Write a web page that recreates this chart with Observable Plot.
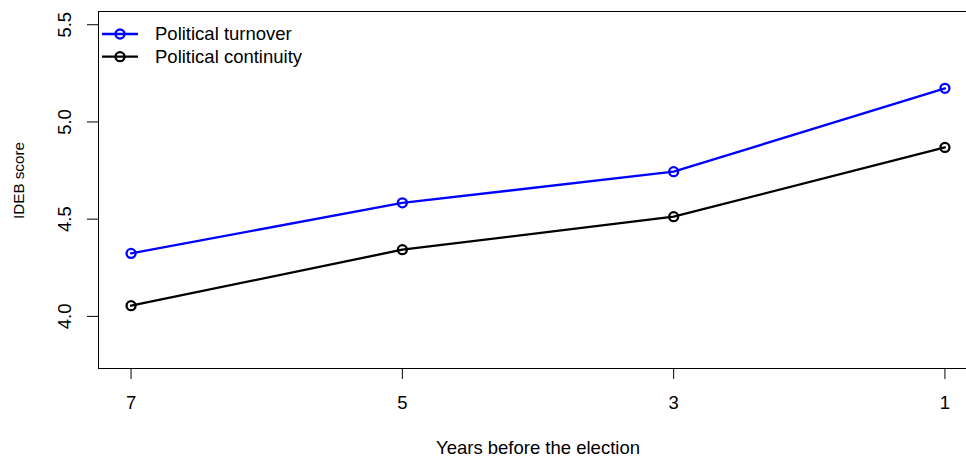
<!DOCTYPE html>
<html>
<head>
<meta charset="utf-8">
<script src="https://cdn.jsdelivr.net/npm/d3@7"></script>
<script src="https://cdn.jsdelivr.net/npm/@observablehq/plot@0.6"></script>
<style>
  html, body { margin: 0; padding: 0; background: white; overflow: hidden; width: 966px; height: 459px; }
  #chart { position: relative; width: 966px; height: 459px; overflow: hidden; }
  #chart > svg { max-width: none !important; }
  #legend { position: absolute; left: 0; top: 0; }
</style>
</head>
<body>
<div id="chart"></div>
<script>
const years = [7, 5, 3, 1];
const turnover = [4.324, 4.584, 4.744, 5.173];
const continuity = [4.055, 4.343, 4.513, 4.869];
const seriesNames = ["Political turnover", "Political continuity"];
const seriesColors = ["#0000ff", "#000000"];
const xTicks = [7, 5, 3, 1];
const yTicks = [4.0, 4.5, 5.0, 5.5];
const xTitle = "Years before the election";
const yTitle = "IDEB score";

const data = [];
years.forEach((yr, i) => data.push({year: yr, score: turnover[i], series: seriesNames[0]}));
years.forEach((yr, i) => data.push({year: yr, score: continuity[i], series: seriesNames[1]}));

const FONT = "'Liberation Sans', Arial, Helvetica, sans-serif";
const FS = 18.5;

const chart = Plot.plot({
  width: 977,
  height: 459,
  marginLeft: 98,
  marginRight: 0,
  marginTop: 11,
  marginBottom: 91,
  style: {fontFamily: FONT, fontSize: FS + "px", background: "white", color: "black", maxWidth: "none"},
  x: {domain: [7.24, 0.76], axis: null},
  y: {domain: [3.732, 5.568], axis: null},
  color: {domain: seriesNames, range: seriesColors},
  marks: [
    Plot.frame({stroke: "black", strokeWidth: 1}),
    Plot.axisX({ticks: xTicks, tickSize: 11, tickFormat: () => "", label: null, anchor: "bottom", stroke: "black"}),
    Plot.axisY({ticks: yTicks, tickSize: 11, tickFormat: () => "", label: null, anchor: "left", stroke: "black"}),
    Plot.text(xTicks, {x: d => d, text: d => String(d), frameAnchor: "bottom", dy: 35, lineAnchor: "middle", fill: "black", fontSize: FS}),
    Plot.text(yTicks, {y: d => d, text: d => d.toFixed(1), frameAnchor: "left", dx: -33, rotate: -90, textAnchor: "middle", lineAnchor: "middle", fill: "black", fontSize: FS}),
    Plot.text([xTitle], {text: d => d, frameAnchor: "bottom", dy: 80, lineAnchor: "middle", fill: "black", fontSize: FS}),
    Plot.text([yTitle], {text: d => d, frameAnchor: "left", dx: -79, dy: -9.5, rotate: -90, textAnchor: "middle", lineAnchor: "middle", fill: "black", fontSize: 15.2}),
    Plot.line(data, {x: "year", y: "score", stroke: "series", z: "series", strokeWidth: 2.3}),
    Plot.dot(data, {x: "year", y: "score", stroke: "series", fill: "none", r: 4.5, strokeWidth: 2.3})
  ]
});

const container = document.getElementById("chart");
container.appendChild(chart);

// Legend (R-style, no box), overlaid in the top-left of the plot region
const legend = d3.select(container).append("svg")
  .attr("id", "legend")
  .attr("width", 400).attr("height", 80)
  .style("font-family", FONT);
seriesNames.forEach((name, i) => {
  const cy = 34 + i * 22.7;
  const g = legend.append("g");
  g.append("line").attr("x1", 102).attr("x2", 138).attr("y1", cy).attr("y2", cy)
    .attr("stroke", seriesColors[i]).attr("stroke-width", 2.3);
  g.append("circle").attr("cx", 120).attr("cy", cy).attr("r", 4.5)
    .attr("fill", "none").attr("stroke", seriesColors[i]).attr("stroke-width", 2.3);
  g.append("text").attr("x", 155).attr("y", cy).attr("dy", "0.35em")
    .attr("font-size", FS).attr("fill", "black").text(name);
});
</script>
</body>
</html>
